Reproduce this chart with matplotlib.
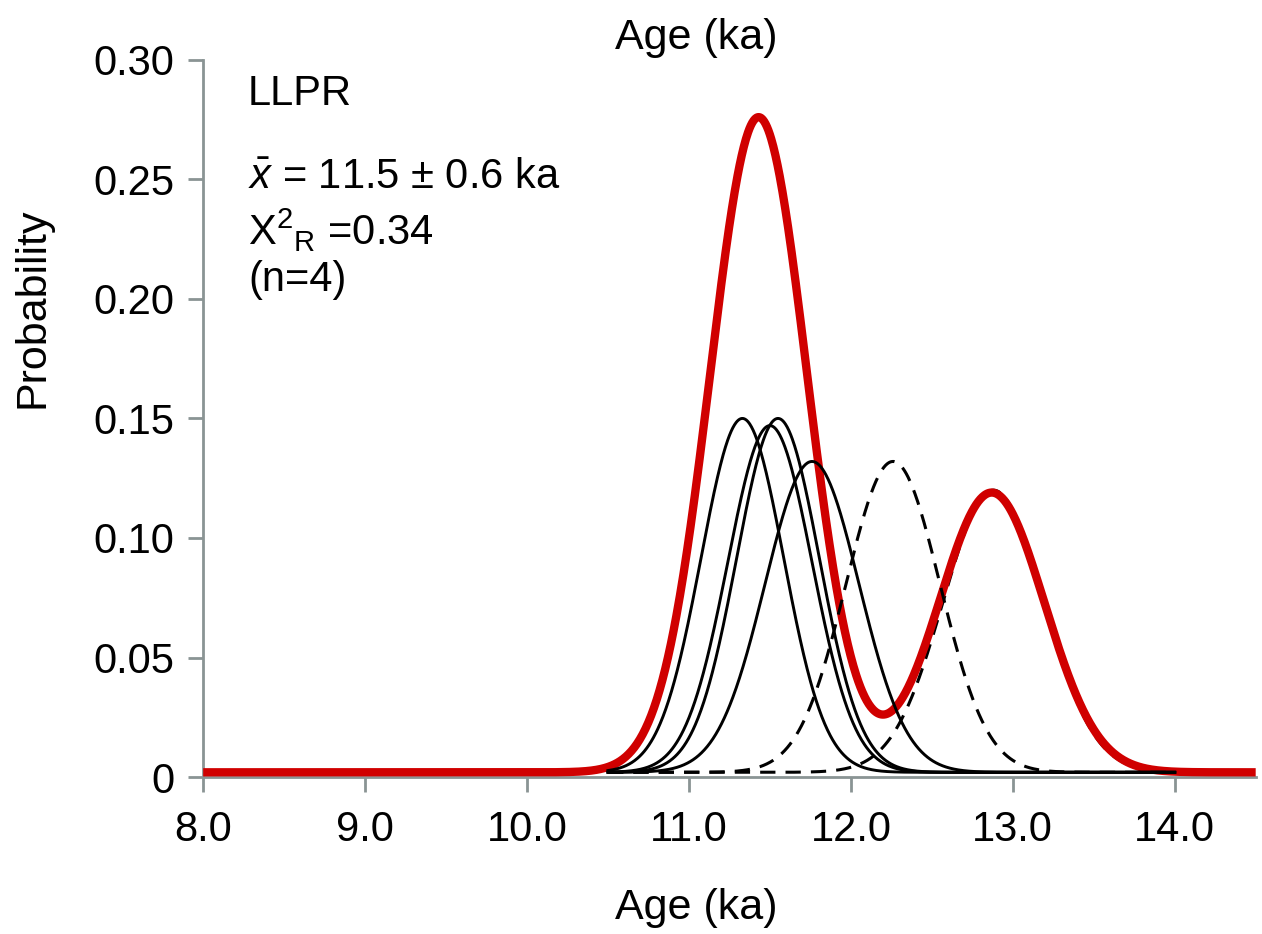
import numpy as np
import matplotlib.pyplot as plt

plt.rcParams['font.family'] = ['Liberation Sans', 'DejaVu Sans']
plt.rcParams['mathtext.fontset'] = 'custom'
plt.rcParams['mathtext.rm'] = 'Liberation Sans'
plt.rcParams['mathtext.it'] = 'Liberation Sans:italic'

# individual sample ages (ka), 1-sigma errors and plotted peak heights
solid_ages = [11.33, 11.55, 11.50, 11.76]
solid_sigmas = [0.255, 0.255, 0.26, 0.29]
solid_peaks = [0.148, 0.148, 0.145, 0.130]

dashed_ages = [12.26, 12.88]
dashed_sigmas = [0.29, 0.31]
dashed_peaks = [0.130, 0.118]

# summed probability (red) shown as two modes
red_ages = [11.43, 12.87]
red_sigmas = [0.30, 0.325]
red_peaks = [0.274, 0.117]

baseline = 0.002
xticks = [8.0, 9.0, 10.0, 11.0, 12.0, 13.0, 14.0]
yticks = [0, 0.05, 0.10, 0.15, 0.20, 0.25, 0.30]
ylabels = ['0', '0.05', '0.10', '0.15', '0.20', '0.25', '0.30']


def gauss(x, mu, s, h):
    return h * np.exp(-0.5 * ((x - mu) / s) ** 2)


fig = plt.figure(figsize=(12.62, 9.34), dpi=100)
ax = fig.add_axes([0.161, 0.168, 0.834, 0.768])

x_full = np.linspace(8.0, 14.5, 1500)
x_part = np.linspace(10.5, 14.0, 1000)

red = baseline + sum(gauss(x_full, m, s, h) for m, s, h in zip(red_ages, red_sigmas, red_peaks))
ax.plot(x_full, red, color='#d00000', lw=6, zorder=3, solid_capstyle='butt')

# last dashed curve sits underneath the red second mode
for i, (m, s, h) in enumerate(zip(dashed_ages, dashed_sigmas, dashed_peaks)):
    ax.plot(x_part, baseline + gauss(x_part, m, s, h), color='black', lw=2.2,
            ls=(0, (5, 3.3)), zorder=2 if i == 1 else 4)

for m, s, h in zip(solid_ages, solid_sigmas, solid_peaks):
    ax.plot(x_part, baseline + gauss(x_part, m, s, h), color='black', lw=2.1, zorder=4)

ax.set_xlim(8.0, 14.5)
ax.set_ylim(0, 0.30)
ax.set_xticks(xticks)
ax.set_xticklabels(['%.1f' % v for v in xticks])
ax.set_yticks(yticks)
ax.set_yticklabels(ylabels)

for side in ['top', 'right']:
    ax.spines[side].set_visible(False)
for side in ['left', 'bottom']:
    ax.spines[side].set_color('#8a9494')
    ax.spines[side].set_linewidth(2)
ax.tick_params(axis='both', direction='out', length=11, width=2, color='#8a9494',
               labelsize=30)
ax.tick_params(axis='x', pad=13)
ax.tick_params(axis='y', pad=10)

fig.text(0.552, 0.028, 'Age (ka)', ha='center', va='center', fontsize=31)
fig.text(0.552, 0.959, 'Age (ka)', ha='center', va='center', fontsize=31)
fig.text(0.026, 0.670, 'Probability', ha='center', va='center', rotation=90, fontsize=31)

tx = 0.1965
fig.text(tx, 1 - 105 / 934, 'LLPR', fontsize=30, va='baseline')
fig.text(tx, 1 - 188 / 934, r'$\bar{x}$ = 11.5 ± 0.6 ka', fontsize=30, va='baseline')
fig.text(tx, 1 - 245 / 934, r'Χ$^{2}{}_{\mathrm{R}}$ =0.34', fontsize=30, va='baseline')
fig.text(tx, 1 - 291 / 934, '(n=4)', fontsize=30, va='baseline')

fig.savefig('out.png', dpi=100)
